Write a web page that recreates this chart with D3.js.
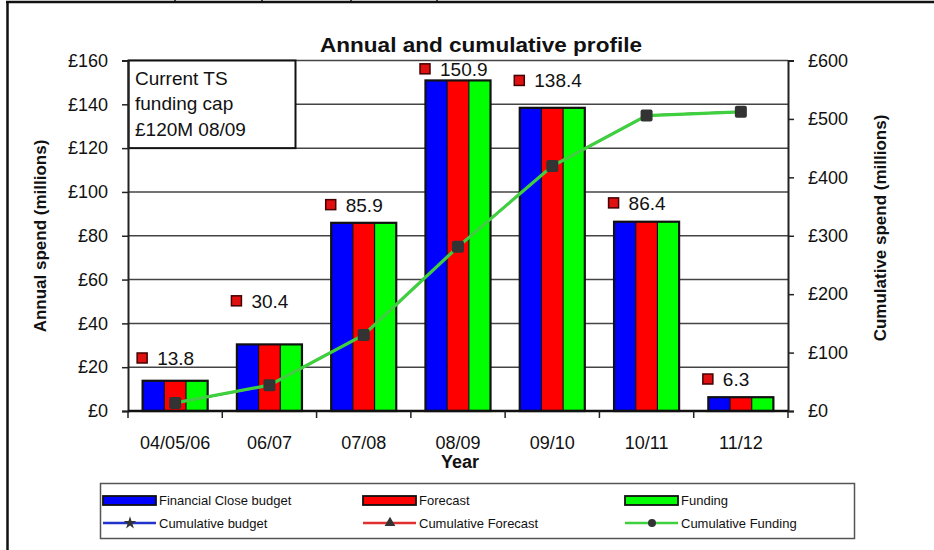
<!DOCTYPE html>
<html>
<head>
<meta charset="utf-8">
<script src="https://cdn.jsdelivr.net/npm/d3@7"></script>
<style>
  body { margin: 0; background: #fff; }
  svg { display: block; font-family: "Liberation Sans", Arial, sans-serif; }
</style>
</head>
<body>
<svg id="chart" width="934" height="550"></svg>
<script>
var years = ["04/05/06", "06/07", "07/08", "08/09", "09/10", "10/11", "11/12"];
var closeBudget = [13.8, 30.4, 85.9, 150.9, 138.4, 86.4, 6.3];
var forecast = [13.8, 30.4, 85.9, 150.9, 138.4, 86.4, 6.3];
var funding = [13.8, 30.4, 85.9, 150.9, 138.4, 86.4, 6.3];
var cumBudget = [13.8, 44.2, 130.1, 281.0, 419.4, 505.8, 512.1];
var cumForecast = [13.8, 44.2, 130.1, 281.0, 419.4, 505.8, 512.1];
var cumFunding = [13.8, 44.2, 130.1, 281.0, 419.4, 505.8, 512.1];
// level (left axis, £m) where each value label marker sits
var labelLevel = [24.2, 50.3, 94.2, 156.2, 150.9, 95.0, 14.6];
var leftTicks = [0, 20, 40, 60, 80, 100, 120, 140, 160];
var rightTicks = [0, 100, 200, 300, 400, 500, 600];
var capNote = ["Current TS", "funding cap", "£120M 08/09"];
var capRange = [120, 160];

var svg = d3.select("#chart");
var margin = {top: 60.5, right: 146, bottom: 139, left: 128},
    width = 934 - margin.left - margin.right,
    height = 550 - margin.top - margin.bottom;

// page frame
svg.append("line").attr("x1", 6).attr("x2", 934).attr("y1", 2).attr("y2", 2)
    .attr("stroke", "#111").attr("stroke-width", 2.5);
svg.append("line").attr("x1", 7.5).attr("x2", 7.5).attr("y1", 1).attr("y2", 550)
    .attr("stroke", "#111").attr("stroke-width", 2.5);
[175, 262, 351, 437].forEach(function(d) {
    svg.append("line").attr("x1", d).attr("x2", d).attr("y1", 0).attr("y2", 3)
        .attr("stroke", "#111").attr("stroke-width", 1.5);
});

var g = svg.append("g").attr("transform", "translate(" + margin.left + "," + margin.top + ")");

var x = d3.scaleBand().domain(years).range([0, width]);
var yL = d3.scaleLinear().domain([0, 160]).range([height, 0]);
var yR = d3.scaleLinear().domain([0, 600]).range([height, 0]);
var groupW = x.bandwidth() * 0.69;
var xs = d3.scaleBand().domain(["budget", "forecast", "funding"]).range([-groupW / 2, groupW / 2]);

// gridlines
g.append("g").selectAll("line").data(leftTicks.filter(function(d) { return d > 0; }))
    .join("line")
    .attr("x1", 0).attr("x2", width)
    .attr("y1", function(d) { return yL(d); }).attr("y2", function(d) { return yL(d); })
    .attr("stroke", "#444").attr("stroke-width", 1.5);

// funding cap note
var capBox = g.append("g");
capBox.append("rect")
    .attr("x", 0.5).attr("y", yL(capRange[1]))
    .attr("width", 167).attr("height", yL(capRange[0]) - yL(capRange[1]))
    .attr("fill", "#fff").attr("stroke", "#111").attr("stroke-width", 2);
capBox.selectAll("text").data(capNote).join("text")
    .attr("x", 7).attr("y", function(d, i) { return yL(capRange[1]) + 24 + i * 25.5; })
    .attr("font-size", 19).attr("fill", "#111")
    .text(function(d) { return d; });

// bars
var series = [
    {key: "budget", values: closeBudget, color: "#0000ff"},
    {key: "forecast", values: forecast, color: "#ff0000"},
    {key: "funding", values: funding, color: "#00ff00"}
];
series.forEach(function(s) {
    g.append("g").selectAll("rect").data(s.values).join("rect")
        .attr("x", function(d, i) { return x(years[i]) + x.bandwidth() / 2 + xs(s.key); })
        .attr("y", function(d) { return yL(d); })
        .attr("width", xs.bandwidth())
        .attr("height", function(d) { return height - yL(d); })
        .attr("fill", s.color);
});
// group outlines
g.append("g").selectAll("rect").data(closeBudget).join("rect")
    .attr("x", function(d, i) { return x(years[i]) + x.bandwidth() / 2 - groupW / 2; })
    .attr("y", function(d) { return yL(d); })
    .attr("width", groupW)
    .attr("height", function(d) { return height - yL(d); })
    .attr("fill", "none").attr("stroke", "#111").attr("stroke-width", 2.2);
[1, 2].forEach(function(k) {
    g.append("g").selectAll("line").data(closeBudget).join("line")
        .attr("x1", function(d, i) { return x(years[i]) + x.bandwidth() / 2 - groupW / 2 + k * xs.bandwidth(); })
        .attr("x2", function(d, i) { return x(years[i]) + x.bandwidth() / 2 - groupW / 2 + k * xs.bandwidth(); })
        .attr("y1", function(d) { return yL(d); }).attr("y2", height)
        .attr("stroke", "#111").attr("stroke-width", 1.2);
});

// axes
var leftAxis = g.append("g")
    .call(d3.axisLeft(yL).tickValues(leftTicks).tickSize(6).tickPadding(14)
        .tickFormat(function(d) { return "£" + d; }));
var rightAxis = g.append("g").attr("transform", "translate(" + width + ",0)")
    .call(d3.axisRight(yR).tickValues(rightTicks).tickSize(6).tickPadding(14)
        .tickFormat(function(d) { return "£" + d; }));
[leftAxis, rightAxis].forEach(function(a) {
    a.select(".domain").attr("stroke", "#222").attr("stroke-width", 2);
    a.selectAll(".tick line").attr("stroke", "#222").attr("stroke-width", 1.5);
    a.selectAll(".tick text").attr("font-size", 18).attr("fill", "#111")
        .attr("font-family", "\"Liberation Sans\", Arial, sans-serif");
});

var bottomAxis = g.append("g").attr("transform", "translate(0," + height + ")");
bottomAxis.append("line").attr("x1", 0).attr("x2", width).attr("y1", 0).attr("y2", 0)
    .attr("stroke", "#111").attr("stroke-width", 2.5);
bottomAxis.selectAll("line.tk").data(d3.range(0, years.length + 1)).join("line")
    .attr("class", "tk")
    .attr("x1", function(d) { return d * x.step(); }).attr("x2", function(d) { return d * x.step(); })
    .attr("y1", 0).attr("y2", 7)
    .attr("stroke", "#222").attr("stroke-width", 1.5);
bottomAxis.selectAll("text").data(years).join("text")
    .attr("x", function(d) { return x(d) + x.bandwidth() / 2; })
    .attr("y", 38)
    .attr("text-anchor", "middle").attr("font-size", 18).attr("fill", "#111")
    .text(function(d) { return d; });

// cumulative lines (identical values, funding drawn last on top)
var cumSeries = [
    {values: cumBudget, color: "#2233cc", w: 2},
    {values: cumForecast, color: "#e03030", w: 2},
    {values: cumFunding, color: "#3fd03f", w: 3.2}
];
var line = d3.line()
    .x(function(d, i) { return x(years[i]) + x.bandwidth() / 2; })
    .y(function(d) { return yR(d); });
cumSeries.forEach(function(s) {
    g.append("path").datum(s.values)
        .attr("d", line).attr("fill", "none")
        .attr("stroke", s.color).attr("stroke-width", s.w);
});
g.append("g").selectAll("rect").data(cumFunding).join("rect")
    .attr("x", function(d, i) { return x(years[i]) + x.bandwidth() / 2 - 6; })
    .attr("y", function(d) { return yR(d) - 6; })
    .attr("width", 12).attr("height", 12).attr("rx", 2)
    .attr("fill", "#333");

// value labels
var labels = g.append("g").selectAll("g").data(closeBudget).join("g")
    .attr("transform", function(d, i) {
        return "translate(" + (x(years[i]) + x.bandwidth() / 2 - 33) + "," + yL(labelLevel[i]) + ")";
    });
labels.append("rect")
    .attr("x", -5).attr("y", -5).attr("width", 10).attr("height", 10)
    .attr("fill", "#e01010").attr("stroke", "#400").attr("stroke-width", 1.5);
labels.append("text")
    .attr("x", 15).attr("y", 7)
    .attr("font-size", 19).attr("fill", "#111")
    .text(function(d) { return d.toFixed(1); });

// titles
svg.append("text").attr("x", 481).attr("y", 52).attr("text-anchor", "middle")
    .attr("font-size", 21).attr("font-weight", "bold").attr("fill", "#111")
    .attr("textLength", 322).attr("lengthAdjust", "spacingAndGlyphs")
    .text("Annual and cumulative profile");
svg.append("text").attr("transform", "translate(46,236) rotate(-90)")
    .attr("text-anchor", "middle").attr("font-size", 17).attr("font-weight", "bold").attr("fill", "#111")
    .text("Annual spend (millions)");
svg.append("text").attr("transform", "translate(886,228) rotate(-90)")
    .attr("text-anchor", "middle").attr("font-size", 17).attr("font-weight", "bold").attr("fill", "#111")
    .text("Cumulative spend (millions)");
svg.append("text").attr("x", 460).attr("y", 468).attr("text-anchor", "middle")
    .attr("font-size", 18).attr("font-weight", "bold").attr("fill", "#111")
    .text("Year");

// legend
var legend = svg.append("g").attr("transform", "translate(100,483)");
legend.append("rect").attr("x", 0.5).attr("y", 0.5).attr("width", 754).attr("height", 55)
    .attr("fill", "#fff").attr("stroke", "#555").attr("stroke-width", 1.5);
var legendCols = [3, 263, 525];
var barItems = [
    {name: "Financial Close budget", color: "#0000ff"},
    {name: "Forecast", color: "#ff0000"},
    {name: "Funding", color: "#00ff00"}
];
var lineItems = [
    {name: "Cumulative budget", color: "#2233cc", shape: d3.symbolStar},
    {name: "Cumulative Forecast", color: "#e03030", shape: d3.symbolTriangle},
    {name: "Cumulative Funding", color: "#3fd03f", shape: d3.symbolCircle}
];
barItems.forEach(function(it, i) {
    var c = legend.append("g").attr("transform", "translate(" + legendCols[i] + ",13)");
    c.append("rect").attr("x", 0).attr("y", 0).attr("width", 53).attr("height", 9)
        .attr("fill", it.color).attr("stroke", "#111").attr("stroke-width", 1.8);
    c.append("text").attr("x", 56).attr("y", 9).attr("font-size", 13).attr("fill", "#111")
        .text(it.name);
});
lineItems.forEach(function(it, i) {
    var c = legend.append("g").attr("transform", "translate(" + legendCols[i] + ",40)");
    c.append("line").attr("x1", 0).attr("x2", 53).attr("y1", 0).attr("y2", 0)
        .attr("stroke", it.color).attr("stroke-width", 2.5);
    c.append("path").attr("transform", "translate(27,0)")
        .attr("d", d3.symbol().type(it.shape).size(50)).attr("fill", "#333");
    c.append("text").attr("x", 56).attr("y", 5).attr("font-size", 13).attr("fill", "#111")
        .text(it.name);
});
</script>
</body>
</html>
